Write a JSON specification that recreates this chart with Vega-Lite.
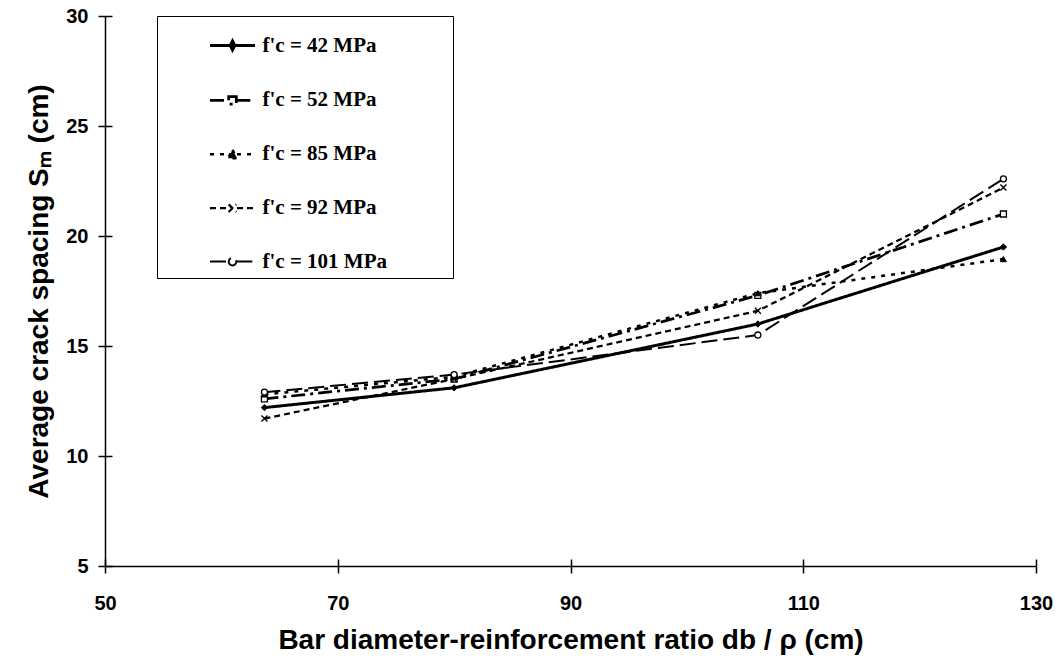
{
  "$schema": "https://vega.github.io/schema/vega-lite/v6.json",
  "width": 931,
  "height": 550,
  "autosize": "none",
  "padding": {"left": 105, "top": 16, "right": 23, "bottom": 96},
  "background": "white",
  "config": {
    "view": {"stroke": null},
    "axis": {
      "grid": false,
      "domainColor": "black",
      "domainWidth": 1.5,
      "tickColor": "black",
      "tickWidth": 1.5,
      "tickSize": 7,
      "labelFlush": false,
      "labelFont": "Liberation Sans",
      "labelFontWeight": "bold",
      "labelFontSize": 20,
      "labelColor": "black",
      "titleFont": "Liberation Sans",
      "titleFontWeight": "bold",
      "titleFontSize": 28,
      "titleColor": "black"
    }
  },
  "resolve": {"axis": {"x": "independent", "y": "independent"}},
  "data": {
    "values": [
      {"ratio": 63.7, "spacing": 12.2, "fc": "42"},
      {"ratio": 80.0, "spacing": 13.1, "fc": "42"},
      {"ratio": 106.1, "spacing": 16.0, "fc": "42"},
      {"ratio": 127.2, "spacing": 19.5, "fc": "42"},
      {"ratio": 63.7, "spacing": 12.6, "fc": "52"},
      {"ratio": 80.0, "spacing": 13.5, "fc": "52"},
      {"ratio": 106.1, "spacing": 17.3, "fc": "52"},
      {"ratio": 127.2, "spacing": 21.0, "fc": "52"},
      {"ratio": 63.7, "spacing": 12.8, "fc": "85"},
      {"ratio": 80.0, "spacing": 13.6, "fc": "85"},
      {"ratio": 106.1, "spacing": 17.4, "fc": "85"},
      {"ratio": 127.2, "spacing": 18.95, "fc": "85"},
      {"ratio": 63.7, "spacing": 11.7, "fc": "92"},
      {"ratio": 80.0, "spacing": 13.5, "fc": "92"},
      {"ratio": 106.1, "spacing": 16.6, "fc": "92"},
      {"ratio": 127.2, "spacing": 22.2, "fc": "92"},
      {"ratio": 63.7, "spacing": 12.9, "fc": "101"},
      {"ratio": 80.0, "spacing": 13.7, "fc": "101"},
      {"ratio": 106.1, "spacing": 15.5, "fc": "101"},
      {"ratio": 127.2, "spacing": 22.6, "fc": "101"}
    ]
  },
  "layer": [
    {
      "mark": {"type": "line", "color": "black"},
      "encoding": {
        "x": {
          "field": "ratio",
          "type": "quantitative",
          "scale": {"domain": [50, 130], "nice": false, "zero": false},
          "axis": {
            "values": [50, 70, 90, 110, 130],
            "labelPadding": 20,
            "titlePadding": 13,
            "title": "Bar diameter-reinforcement ratio db / ρ (cm)"
          }
        },
        "y": {
          "field": "spacing",
          "type": "quantitative",
          "scale": {"domain": [5, 30], "nice": false, "zero": false},
          "axis": {
            "values": [5, 10, 15, 20, 25, 30],
            "labelPadding": 10,
            "titlePadding": 12,
            "title": "Average crack spacing Sₘ (cm)"
          }
        },
        "strokeDash": {
          "field": "fc",
          "type": "nominal",
          "scale": {
            "domain": ["42", "52", "85", "92", "101"],
            "range": [[1, 0], [14, 5, 3, 5], [4, 6], [6, 4], [16, 6]]
          },
          "legend": {
            "orient": "none",
            "legendX": 52,
            "legendY": 0,
            "title": null,
            "padding": 5.5,
            "strokeColor": "black",
            "fillColor": "white",
            "symbolSize": 2025,
            "symbolOffset": 46,
            "symbolStrokeColor": "black",
            "symbolStrokeWidth": 2,
            "rowPadding": 19.9,
            "labelOffset": 6,
            "labelLimit": 400,
            "labelFont": "Liberation Serif",
            "labelFontWeight": "bold",
            "labelFontSize": 21,
            "labelColor": "black",
            "labelExpr": "\"f'c = \" + datum.label + \" MPa\u2800\u2800\u2800\u2800\"",
            "encode": {
              "symbols": {
                "update": {
                  "shape": {"signal": "datum.value === '42' ? 'M-1,0H1M0,-0.2L0.1,0L0,0.2L-0.1,0Z' : datum.value === '52' ? 'M-1,0H-0.17M0.17,0H1M-0.17,-0.17H0.17V0.17H-0.17Z' : datum.value === '85' ? 'M-1,0H-0.2M0.2,0H1M0,-0.2L0.2,0.17L-0.2,0.17Z' : datum.value === '92' ? 'M-1,0H-0.2M0.2,0H1M-0.17,-0.17L0.17,0.17M-0.17,0.17L0.17,-0.17' : 'M-1,0H-0.17M0.17,0H1M0.17,0A0.17,0.17 0 1,1 -0.17,0A0.17,0.17 0 1,1 0.17,0Z'"},
                  "fill": {"signal": "datum.value === '42' || datum.value === '85' ? 'black' : 'white'"},
                  "stroke": {"value": "black"},
                  "strokeWidth": {"signal": "datum.value === '42' ? 3 : datum.value === '101' ? 2.5 : 1.8"}
                }
              }
            }
          }
        },
        "strokeWidth": {
          "field": "fc",
          "type": "nominal",
          "scale": {
            "domain": ["42", "52", "85", "92", "101"],
            "range": [3, 2, 2.2, 1.4, 2.6]
          },
          "legend": null
        }
      }
    },
    {
      "transform": [{"filter": "datum.fc === '42'"}],
      "mark": {"type": "point", "shape": "diamond", "filled": true, "fill": "black", "stroke": "black", "strokeWidth": 1, "size": 40, "opacity": 1},
      "encoding": {
        "x": {
          "field": "ratio",
          "type": "quantitative",
          "axis": {
            "orient": "bottom",
            "values": [50, 70, 90, 110, 130],
            "tickSize": -7,
            "labels": false,
            "domain": false,
            "title": null
          }
        },
        "y": {
          "field": "spacing",
          "type": "quantitative",
          "axis": {
            "orient": "left",
            "values": [5, 10, 15, 20, 25, 30],
            "tickSize": -7,
            "labels": false,
            "domain": false,
            "title": null
          }
        }
      }
    },
    {
      "transform": [{"filter": "datum.fc === '52'"}],
      "mark": {"type": "point", "shape": "square", "filled": true, "fill": "white", "stroke": "black", "strokeWidth": 1.3, "size": 36, "opacity": 1},
      "encoding": {
        "x": {"field": "ratio", "type": "quantitative", "axis": null},
        "y": {"field": "spacing", "type": "quantitative", "axis": null}
      }
    },
    {
      "transform": [{"filter": "datum.fc === '85'"}],
      "mark": {"type": "point", "shape": "triangle-up", "filled": true, "fill": "black", "stroke": "black", "strokeWidth": 1, "size": 36, "opacity": 1},
      "encoding": {
        "x": {"field": "ratio", "type": "quantitative", "axis": null},
        "y": {"field": "spacing", "type": "quantitative", "axis": null}
      }
    },
    {
      "transform": [{"filter": "datum.fc === '92'"}],
      "mark": {"type": "point", "shape": "M-1,-1L1,1M-1,1L1,-1", "filled": false, "stroke": "black", "strokeWidth": 1.4, "size": 36, "opacity": 1},
      "encoding": {
        "x": {"field": "ratio", "type": "quantitative", "axis": null},
        "y": {"field": "spacing", "type": "quantitative", "axis": null}
      }
    },
    {
      "transform": [{"filter": "datum.fc === '101'"}],
      "mark": {"type": "point", "shape": "circle", "filled": true, "fill": "white", "stroke": "black", "strokeWidth": 1.3, "size": 36, "opacity": 1},
      "encoding": {
        "x": {"field": "ratio", "type": "quantitative", "axis": null},
        "y": {"field": "spacing", "type": "quantitative", "axis": null}
      }
    }
  ]
}
